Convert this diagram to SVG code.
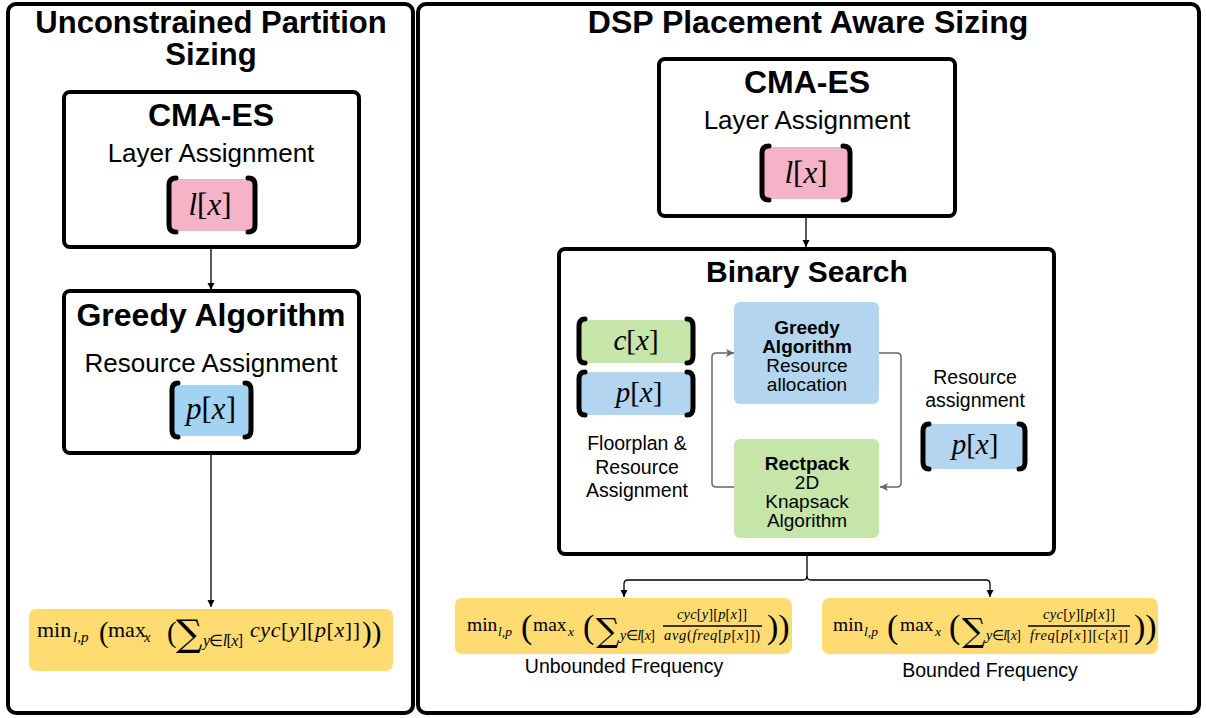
<svg xmlns="http://www.w3.org/2000/svg" width="1206" height="718" viewBox="0 0 1206 718">
  <style>
    .panel { fill: #ffffff; stroke: #000000; stroke-width: 4; }
    .box { fill: #ffffff; stroke: #000000; stroke-width: 4; }
    .brk { fill: none; stroke: #000000; stroke-width: 5; stroke-linecap: round; }
    .sans { font-family: "Liberation Sans", Arial, sans-serif; fill: #000000; }
    .b { font-weight: bold; }
    .serif { font-family: "Liberation Serif", "Times New Roman", serif; fill: #000000; }
    .sig { font-family: "DejaVu Serif", serif; fill: #000000; }
    .it { font-style: italic; }
    .conn { fill: none; stroke: #000000; stroke-width: 1.3; }
    .loop { fill: none; stroke: #666666; stroke-width: 1.5; }
    .pink { fill: #f4b3c7; }
    .blue { fill: #a3d3f2; }
    .lblue { fill: #b3d5ef; }
    .green { fill: #c6e5a9; }
    .yellow { fill: #fedc72; }
  </style>
  <defs>
    <marker id="arr" viewBox="0 0 10 10" refX="10" refY="5" markerWidth="7" markerHeight="8" markerUnits="userSpaceOnUse" orient="auto">
      <path d="M0,0 L10,5 L0,10 Z" fill="#000000"/>
    </marker>
    <marker id="arrg" viewBox="0 0 10 10" refX="10" refY="5" markerWidth="9" markerHeight="8" markerUnits="userSpaceOnUse" orient="auto">
      <path d="M0,0 L10,5 L0,10 L2.5,5 Z" fill="#666666"/>
    </marker>
  </defs>

  <!-- outer panels -->
  <g id="panel-unconstrained">
    <rect class="panel" x="8" y="4" width="405" height="709" rx="8"/>
    <text class="sans b" x="211" y="33" font-size="31" text-anchor="middle">Unconstrained Partition</text>
    <text class="sans b" x="211" y="65" font-size="31" text-anchor="middle">Sizing</text>
  </g>
  <g id="panel-dsp">
    <rect class="panel" x="418" y="4" width="781" height="709" rx="8"/>
    <text class="sans b" x="808" y="33" font-size="32" text-anchor="middle">DSP Placement Aware Sizing</text>
  </g>

  <!-- left column -->
  <g id="cma-es-left">
    <rect class="box" x="64" y="92" width="295" height="155" rx="6"/>
    <text class="sans b" x="211" y="126" font-size="32" text-anchor="middle">CMA-ES</text>
    <text class="sans" x="211" y="162" font-size="26" text-anchor="middle">Layer Assignment</text>
    <rect class="pink" x="171" y="179" width="82" height="52" rx="3"/>
    <path class="brk" d="M176,178 Q169,178 169,185 V225 Q169,232 176,232"/>
    <path class="brk" d="M248,178 Q255,178 255,185 V225 Q255,232 248,232"/>
    <text class="serif" x="210" y="215" font-size="31" text-anchor="middle"><tspan class="it">l</tspan>[<tspan class="it">x</tspan>]</text>
  </g>

  <g id="greedy-left">
    <rect class="box" x="64" y="291" width="295" height="162" rx="6"/>
    <text class="sans b" x="211" y="326" font-size="32" text-anchor="middle">Greedy Algorithm</text>
    <text class="sans" x="211" y="372" font-size="26" text-anchor="middle">Resource Assignment</text>
    <rect class="blue" x="173" y="385" width="77" height="51" rx="3"/>
    <path class="brk" d="M178,383 Q172,383 172,390 V430 Q172,437 178,437"/>
    <path class="brk" d="M245,383 Q251,383 251,390 V430 Q251,437 245,437"/>
    <text class="serif" x="211" y="419" font-size="31" text-anchor="middle"><tspan class="it">p</tspan>[<tspan class="it">x</tspan>]</text>
  </g>

  <g id="objective-left">
    <rect class="yellow" x="29" y="609" width="364" height="62" rx="7"/>
    <text class="serif" x="37" y="637" font-size="22">min</text>
    <text class="serif it" x="73" y="642" font-size="15">l,p</text>
    <text class="serif" x="99" y="642" font-size="29">(</text>
    <text class="serif" x="108" y="637" font-size="22">max</text>
    <text class="serif it" x="144" y="642" font-size="15">x</text>
    <text class="serif" x="167" y="642" font-size="29">(</text>
    <text class="sig" x="176" y="646" font-size="37">∑</text>
    <text class="serif" x="203" y="646" font-size="16" textLength="40" lengthAdjust="spacing"><tspan class="it">y</tspan>∈<tspan class="it">l</tspan>[<tspan class="it">x</tspan>]</text>
    <text class="serif" x="250" y="637" font-size="22" textLength="110" lengthAdjust="spacing"><tspan class="it">cyc</tspan>[<tspan class="it">y</tspan>][<tspan class="it">p</tspan>[<tspan class="it">x</tspan>]]</text>
    <text class="serif" x="362" y="642" font-size="29">))</text>
  </g>

  <!-- right column -->
  <g id="cma-es-right">
    <rect class="box" x="659" y="59" width="296" height="157" rx="6"/>
    <text class="sans b" x="807" y="93" font-size="32" text-anchor="middle">CMA-ES</text>
    <text class="sans" x="807" y="129" font-size="26" text-anchor="middle">Layer Assignment</text>
    <rect class="pink" x="764" y="147" width="84" height="52" rx="3"/>
    <path class="brk" d="M769,146 Q762,146 762,153 V193 Q762,200 769,200"/>
    <path class="brk" d="M843,146 Q850,146 850,153 V193 Q850,200 843,200"/>
    <text class="serif" x="806" y="183" font-size="31" text-anchor="middle"><tspan class="it">l</tspan>[<tspan class="it">x</tspan>]</text>
  </g>

  <g id="binary-search">
    <rect class="box" x="559" y="249" width="495" height="305" rx="6"/>
    <text class="sans b" x="807" y="282" font-size="30" text-anchor="middle">Binary Search</text>
  </g>

  <g id="floorplan">
    <rect class="green" x="580" y="320" width="112" height="43" rx="3"/>
    <path class="brk" d="M585,319 Q579,319 579,326 V356 Q579,363 585,363"/>
    <path class="brk" d="M687,319 Q693,319 693,326 V356 Q693,363 687,363"/>
    <text class="serif" x="636" y="350" font-size="29" text-anchor="middle"><tspan class="it">c</tspan>[<tspan class="it">x</tspan>]</text>
    <rect class="lblue" x="580" y="372" width="112" height="43" rx="3"/>
    <path class="brk" d="M585,372 Q579,372 579,379 V408 Q579,415 585,415"/>
    <path class="brk" d="M687,372 Q693,372 693,379 V408 Q693,415 687,415"/>
    <text class="serif" x="639" y="402" font-size="29" text-anchor="middle"><tspan class="it">p</tspan>[<tspan class="it">x</tspan>]</text>
    <text class="sans" x="637" y="450" font-size="19.5" text-anchor="middle">Floorplan &amp;</text>
    <text class="sans" x="637" y="474" font-size="19.5" text-anchor="middle">Resource</text>
    <text class="sans" x="637" y="497" font-size="19.5" text-anchor="middle">Assignment</text>
  </g>

  <g id="greedy-right">
    <rect class="lblue" x="734" y="302" width="145" height="102" rx="6"/>
    <text class="sans b" x="807" y="334" font-size="19" text-anchor="middle">Greedy</text>
    <text class="sans b" x="807" y="353" font-size="19" text-anchor="middle">Algorithm</text>
    <text class="sans" x="807" y="372" font-size="19" text-anchor="middle">Resource</text>
    <text class="sans" x="807" y="391" font-size="19" text-anchor="middle">allocation</text>
  </g>

  <g id="rectpack">
    <rect class="green" x="734" y="439" width="145" height="99" rx="6"/>
    <text class="sans b" x="807" y="470" font-size="19" text-anchor="middle">Rectpack</text>
    <text class="sans" x="807" y="489" font-size="19" text-anchor="middle">2D</text>
    <text class="sans" x="807" y="508" font-size="19" text-anchor="middle">Knapsack</text>
    <text class="sans" x="807" y="527" font-size="19" text-anchor="middle">Algorithm</text>
  </g>

  <g id="resource-assignment">
    <text class="sans" x="975" y="384" font-size="19.5" text-anchor="middle">Resource</text>
    <text class="sans" x="975" y="407" font-size="19.5" text-anchor="middle">assignment</text>
    <rect class="lblue" x="924" y="424" width="100" height="45" rx="3"/>
    <path class="brk" d="M929,424 Q923,424 923,431 V462 Q923,469 929,469"/>
    <path class="brk" d="M1019,424 Q1025,424 1025,431 V462 Q1025,469 1019,469"/>
    <text class="serif" x="975" y="454" font-size="29" text-anchor="middle"><tspan class="it">p</tspan>[<tspan class="it">x</tspan>]</text>
  </g>

  <g id="objective-unbounded">
    <rect class="yellow" x="455" y="598" width="337" height="56" rx="7"/>
    <text class="serif" x="467" y="631" font-size="19.5">min</text>
    <text class="serif it" x="498" y="636" font-size="13.5">l,p</text>
    <text class="serif" x="521" y="638" font-size="34">(</text>
    <text class="serif" x="533" y="631" font-size="19.5">max</text>
    <text class="serif it" x="568" y="636" font-size="13.5">x</text>
    <text class="serif" x="583" y="638" font-size="34">(</text>
    <text class="sig" x="596" y="642" font-size="33">∑</text>
    <text class="serif" x="620" y="640" font-size="14" textLength="35" lengthAdjust="spacing"><tspan class="it">y</tspan>∈<tspan class="it">l</tspan>[<tspan class="it">x</tspan>]</text>
    <text class="serif" x="677" y="619" font-size="14.5" textLength="70" lengthAdjust="spacing"><tspan class="it">cyc</tspan>[<tspan class="it">y</tspan>][<tspan class="it">p</tspan>[<tspan class="it">x</tspan>]]</text>
    <line x1="663" y1="626" x2="762" y2="626" stroke="#000000" stroke-width="1.3"/>
    <text class="serif" x="664" y="640" font-size="14.5" textLength="96" lengthAdjust="spacing"><tspan class="it">avg</tspan>(<tspan class="it">freq</tspan>[<tspan class="it">p</tspan>[<tspan class="it">x</tspan>]])</text>
    <text class="serif" x="767" y="638" font-size="34">))</text>
    <text class="sans" x="624" y="673" font-size="19.5" text-anchor="middle">Unbounded Frequency</text>
  </g>

  <g id="objective-bounded">
    <rect class="yellow" x="822" y="598" width="336" height="56" rx="7"/>
    <text class="serif" x="833" y="631" font-size="19.5">min</text>
    <text class="serif it" x="864" y="636" font-size="13.5">l,p</text>
    <text class="serif" x="887" y="638" font-size="34">(</text>
    <text class="serif" x="900" y="631" font-size="19.5">max</text>
    <text class="serif it" x="935" y="636" font-size="13.5">x</text>
    <text class="serif" x="949" y="638" font-size="34">(</text>
    <text class="sig" x="962" y="642" font-size="33">∑</text>
    <text class="serif" x="986" y="640" font-size="14" textLength="35" lengthAdjust="spacing"><tspan class="it">y</tspan>∈<tspan class="it">l</tspan>[<tspan class="it">x</tspan>]</text>
    <text class="serif" x="1043" y="619" font-size="14.5" textLength="72" lengthAdjust="spacing"><tspan class="it">cyc</tspan>[<tspan class="it">y</tspan>][<tspan class="it">p</tspan>[<tspan class="it">x</tspan>]]</text>
    <line x1="1028" y1="626" x2="1130" y2="626" stroke="#000000" stroke-width="1.3"/>
    <text class="serif" x="1030" y="640" font-size="14.5" textLength="98" lengthAdjust="spacing"><tspan class="it">freq</tspan>[<tspan class="it">p</tspan>[<tspan class="it">x</tspan>]][<tspan class="it">c</tspan>[<tspan class="it">x</tspan>]]</text>
    <text class="serif" x="1134" y="638" font-size="34">))</text>
    <text class="sans" x="990" y="677" font-size="19.5" text-anchor="middle">Bounded Frequency</text>
  </g>

  <!-- connectors drawn over the boxes -->
  <g id="connectors">
    <path class="conn" d="M211,248 V290" marker-end="url(#arr)"/>
    <path class="conn" d="M211,454 V607" marker-end="url(#arr)"/>
    <path class="conn" d="M806,218 V247" marker-end="url(#arr)"/>
    <path class="conn" d="M807,556 V576 Q807,580 803,580 H628 Q624,580 624,584 V597" marker-end="url(#arr)"/>
    <path class="conn" d="M807,576 Q807,580 811,580 H986 Q990,580 990,584 V597" marker-end="url(#arr)"/>
    <path class="loop" d="M879,353 H897 Q901,353 901,357 V483 Q901,487 897,487 H880" marker-end="url(#arrg)"/>
    <path class="loop" d="M734,487 H716 Q712,487 712,483 V357 Q712,353 716,353 H734" marker-end="url(#arrg)"/>
  </g>
</svg>
